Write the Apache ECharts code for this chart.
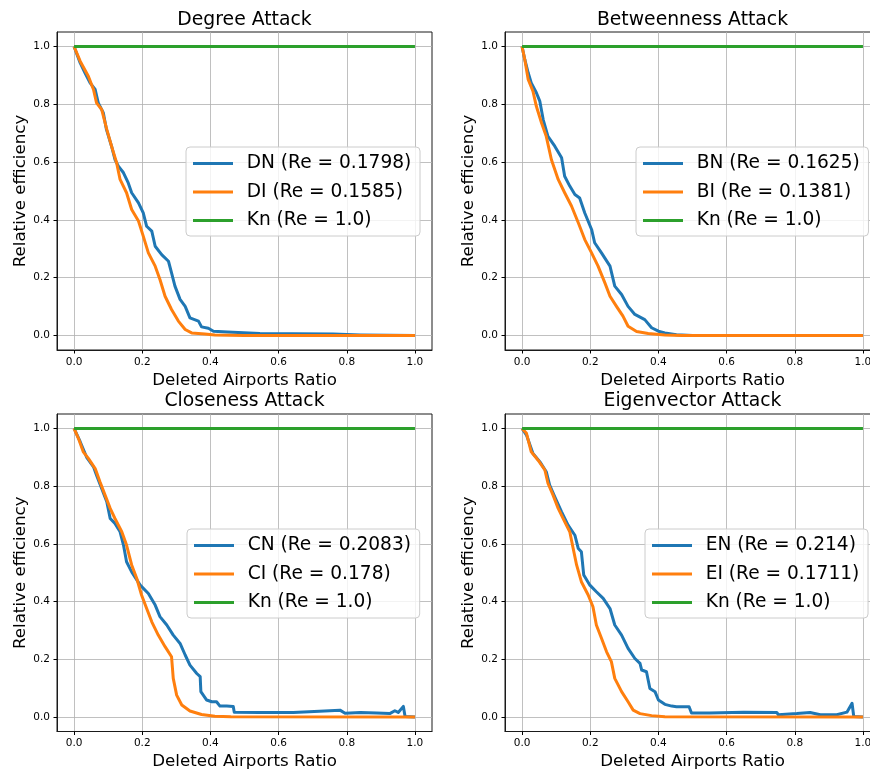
<!DOCTYPE html>
<html>
<head>
<meta charset="utf-8">
<script src="https://cdn.jsdelivr.net/npm/echarts@6/dist/echarts.min.js"></script>
<style>
html, body { margin: 0; padding: 0; background: #fff; }
#main { width: 870px; height: 773px; }
</style>
</head>
<body>
<div id="main"></div>
<script>
// tick values shared by all four panels
var xTicks = [0, 0.2, 0.4, 0.6, 0.8, 1.0];
var yTicks = [0, 0.2, 0.4, 0.6, 0.8, 1.0];

var titles = ['Degree Attack', 'Betweenness Attack', 'Closeness Attack', 'Eigenvector Attack'];
var xName = 'Deleted Airports Ratio';
var yName = 'Relative efficiency';

// legend names (normal / improved / Kn)
var degreeNames = ['DN (Re = 0.1798)', 'DI (Re = 0.1585)', 'Kn (Re = 1.0)'];
var betweenNames = ['BN (Re = 0.1625)', 'BI (Re = 0.1381)', 'Kn (Re = 1.0)'];
var closeNames = ['CN (Re = 0.2083)', 'CI (Re = 0.178)', 'Kn (Re = 1.0)'];
var eigenNames = ['EN (Re = 0.214)', 'EI (Re = 0.1711)', 'Kn (Re = 1.0)'];

// [deleted ratio, relative efficiency]
var dnData = [[0,1],[0.018,0.943],[0.032,0.909],[0.047,0.874],[0.062,0.851],[0.071,0.805],[0.086,0.77],[0.095,0.713],[0.11,0.655],[0.12,0.609],[0.13,0.586],[0.145,0.563],[0.159,0.528],[0.169,0.494],[0.189,0.459],[0.203,0.424],[0.213,0.378],[0.228,0.361],[0.238,0.309],[0.257,0.28],[0.277,0.257],[0.286,0.217],[0.296,0.171],[0.311,0.125],[0.326,0.101],[0.34,0.061],[0.365,0.05],[0.374,0.03],[0.394,0.025],[0.409,0.015],[0.45,0.012],[0.545,0.007],[0.64,0.006],[0.76,0.005],[0.84,0.002],[1.0,0]];
var diData = [[0,1],[0.018,0.949],[0.042,0.897],[0.057,0.851],[0.066,0.805],[0.081,0.782],[0.096,0.713],[0.11,0.655],[0.125,0.597],[0.135,0.54],[0.154,0.494],[0.169,0.436],[0.189,0.396],[0.203,0.344],[0.218,0.286],[0.238,0.24],[0.252,0.194],[0.267,0.136],[0.286,0.09],[0.306,0.05],[0.326,0.021],[0.345,0.009],[0.384,0.005],[0.413,0.002],[0.5,0],[1.0,0]];

var bnData = [[0,1],[0.008,0.955],[0.018,0.909],[0.027,0.874],[0.042,0.84],[0.052,0.811],[0.062,0.747],[0.076,0.689],[0.096,0.655],[0.116,0.615],[0.125,0.551],[0.14,0.517],[0.155,0.488],[0.169,0.476],[0.184,0.424],[0.204,0.367],[0.213,0.321],[0.233,0.286],[0.258,0.24],[0.272,0.171],[0.292,0.142],[0.311,0.101],[0.331,0.073],[0.36,0.055],[0.38,0.027],[0.40,0.015],[0.419,0.009],[0.453,0.003],[0.5,0],[1.0,0]];
var biData = [[0,1],[0.008,0.955],[0.018,0.886],[0.032,0.845],[0.042,0.793],[0.057,0.736],[0.071,0.689],[0.086,0.609],[0.106,0.54],[0.125,0.494],[0.145,0.448],[0.165,0.39],[0.184,0.332],[0.204,0.286],[0.223,0.24],[0.243,0.182],[0.258,0.136],[0.277,0.101],[0.296,0.067],[0.311,0.032],[0.336,0.014],[0.37,0.007],[0.419,0.002],[0.47,0],[1.0,0]];

var cnData = [[0,1],[0.018,0.954],[0.037,0.90],[0.057,0.867],[0.066,0.838],[0.081,0.792],[0.096,0.746],[0.106,0.688],[0.12,0.671],[0.135,0.642],[0.145,0.596],[0.154,0.538],[0.169,0.503],[0.194,0.457],[0.218,0.428],[0.238,0.388],[0.252,0.348],[0.272,0.319],[0.291,0.284],[0.311,0.255],[0.326,0.215],[0.34,0.18],[0.36,0.151],[0.37,0.14],[0.372,0.088],[0.389,0.059],[0.404,0.053],[0.418,0.053],[0.428,0.038],[0.448,0.038],[0.467,0.037],[0.47,0.017],[0.545,0.016],[0.643,0.016],[0.72,0.02],[0.78,0.024],[0.795,0.013],[0.84,0.016],[0.888,0.014],[0.926,0.012],[0.941,0.022],[0.951,0.016],[0.966,0.037],[0.971,0.002],[1.0,0]];
var ciData = [[0,1],[0.013,0.965],[0.027,0.919],[0.042,0.896],[0.062,0.861],[0.076,0.815],[0.091,0.769],[0.106,0.723],[0.12,0.688],[0.14,0.642],[0.154,0.596],[0.169,0.527],[0.184,0.48],[0.198,0.423],[0.213,0.376],[0.228,0.33],[0.247,0.284],[0.267,0.244],[0.286,0.209],[0.291,0.134],[0.301,0.076],[0.316,0.042],[0.34,0.021],[0.374,0.009],[0.413,0.003],[0.46,0.001],[1.0,0]];

var enData = [[0,1],[0.013,0.977],[0.032,0.913],[0.052,0.885],[0.071,0.85],[0.081,0.804],[0.096,0.763],[0.116,0.711],[0.135,0.665],[0.155,0.63],[0.165,0.584],[0.174,0.573],[0.181,0.492],[0.199,0.457],[0.218,0.434],[0.238,0.411],[0.258,0.376],[0.272,0.319],[0.292,0.284],[0.311,0.238],[0.331,0.203],[0.346,0.186],[0.351,0.163],[0.365,0.157],[0.375,0.099],[0.39,0.088],[0.40,0.059],[0.419,0.044],[0.439,0.038],[0.453,0.036],[0.49,0.036],[0.497,0.014],[0.55,0.014],[0.65,0.017],[0.747,0.016],[0.752,0.008],[0.806,0.012],[0.845,0.016],[0.875,0.008],[0.923,0.008],[0.953,0.017],[0.968,0.048],[0.973,0.002],[1.0,0]];
var eiData = [[0,1],[0.013,0.983],[0.027,0.919],[0.047,0.89],[0.067,0.856],[0.076,0.81],[0.091,0.769],[0.106,0.723],[0.125,0.677],[0.14,0.642],[0.15,0.584],[0.16,0.527],[0.174,0.469],[0.194,0.423],[0.208,0.382],[0.218,0.319],[0.233,0.273],[0.248,0.226],[0.262,0.192],[0.272,0.134],[0.292,0.088],[0.311,0.053],[0.326,0.024],[0.346,0.012],[0.38,0.005],[0.419,0.001],[1.0,0]];

var knData = [[0,1],[1.0,1]];

var colors = ['#1f77b4', '#ff7f0e', '#2ca02c'];
var fontFamily = 'DejaVu Sans';

// panel boxes (matplotlib axes area incl. 5% margins)
var panels = [
    {left: 57, right: 438, top: 32, bottom: 423, cx: 244.5, titleTop: 11, legendLeft: 186, legendTop: 147},
    {left: 505, right: -10, top: 32, bottom: 423, cx: 692.5, titleTop: 11, legendLeft: 636, legendTop: 147},
    {left: 57, right: 438, top: 414, bottom: 41.5, cx: 244.5, titleTop: 392, legendLeft: 187, legendTop: 529},
    {left: 505, right: -10, top: 414, bottom: 41.5, cx: 692.5, titleTop: 392, legendLeft: 645, legendTop: 529}
];
var panelNames = [degreeNames, betweenNames, closeNames, eigenNames];
var panelData = [[dnData, diData, knData], [bnData, biData, knData], [cnData, ciData, knData], [enData, eiData, knData]];

function textWidth(txt, size) {
    var ctx = document.createElement('canvas').getContext('2d');
    ctx.font = size + 'px "' + fontFamily + '"';
    return ctx.measureText(txt).width;
}

var chart = echarts.init(document.getElementById('main'), null, {renderer: 'canvas'});

var option = {
    animation: false,
    backgroundColor: '#fff',
    textStyle: {fontFamily: fontFamily},
    title: [], grid: [], xAxis: [], yAxis: [], legend: [], series: []
};

var titleSize = 18.8;
panels.forEach(function (p, i) {
    option.title.push({
        text: titles[i],
        left: p.cx - textWidth(titles[i], titleSize) / 2,
        top: p.titleTop,
        padding: 0,
        textStyle: {fontSize: titleSize, fontWeight: 'normal', color: '#000', fontFamily: fontFamily}
    });
    option.grid.push({
        left: p.left, right: p.right, top: p.top, bottom: p.bottom,
        outerBoundsMode: 'none', containLabel: false,
        show: true, borderColor: '#1a1a1a', borderWidth: 1, backgroundColor: 'transparent'
    });
    option.xAxis.push({
        type: 'value', gridIndex: i, min: -0.05, max: 1.05,
        name: xName, nameLocation: 'middle', nameGap: 22,
        nameTextStyle: {fontSize: 16.7, color: '#000', fontFamily: fontFamily},
        axisLine: {show: true, onZero: false, lineStyle: {color: '#1a1a1a', width: 1}},
        axisTick: {show: true, length: 3.5, customValues: xTicks, lineStyle: {color: '#000'}},
        axisLabel: {customValues: xTicks, margin: 6.5, fontSize: 10.5, color: '#000',
            formatter: function (v) { return v.toFixed(1); }},
        splitLine: {show: true, lineStyle: {color: '#b0b0b0', width: 0.8}}
    });
    option.yAxis.push({
        type: 'value', gridIndex: i, min: -0.05, max: 1.05,
        name: yName, nameLocation: 'middle', nameGap: 28,
        nameTextStyle: {fontSize: 16.7, color: '#000', fontFamily: fontFamily},
        axisLine: {show: true, onZero: false, lineStyle: {color: '#1a1a1a', width: 1}},
        axisTick: {show: true, length: 3.5, customValues: yTicks, lineStyle: {color: '#000'}},
        axisLabel: {customValues: yTicks, margin: 7, fontSize: 10.5, color: '#000',
            formatter: function (v) { return v.toFixed(1); }},
        splitLine: {show: true, lineStyle: {color: '#b0b0b0', width: 0.8}}
    });
    option.legend.push({
        data: panelNames[i],
        orient: 'vertical',
        left: p.legendLeft, top: p.legendTop,
        icon: 'rect', itemWidth: 40, itemHeight: 3, itemGap: 9.5,
        padding: [7, 8.7, 6, 7],
        backgroundColor: 'rgba(255,255,255,0.8)',
        borderColor: '#cccccc', borderWidth: 1, borderRadius: 4,
        selectedMode: false,
        textStyle: {fontSize: 18.6, lineHeight: 19, color: '#000', fontFamily: fontFamily, padding: [0, 0, 0, 8.7]}
    });
    panelData[i].forEach(function (d, k) {
        option.series.push({
            name: panelNames[i][k],
            type: 'line',
            xAxisIndex: i, yAxisIndex: i,
            data: d,
            showSymbol: false,
            symbol: 'none',
            color: colors[k],
            lineStyle: {width: 3, color: colors[k], join: 'round', cap: 'butt'},
            emphasis: {disabled: true}
        });
    });
});

chart.setOption(option);
</script>
</body>
</html>
